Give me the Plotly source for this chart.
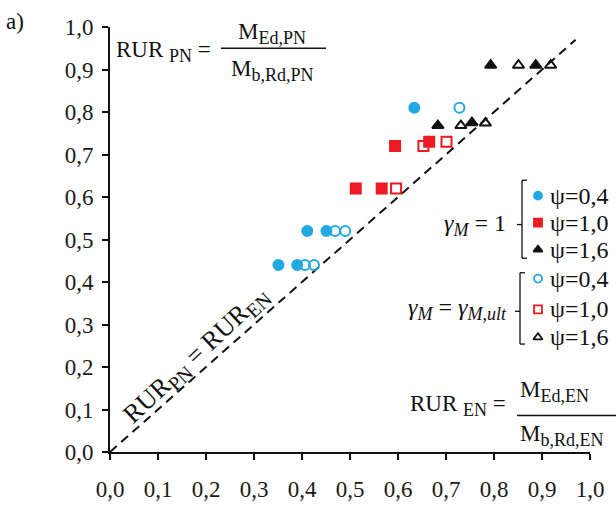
import plotly.graph_objects as go

# ---------------- data ----------------
# gamma_M = 1 (filled markers)
g1_psi04_x = [0.351, 0.390, 0.411, 0.451, 0.634]
g1_psi04_y = [0.44, 0.44, 0.52, 0.52, 0.81]
g1_psi10_x = [0.512, 0.566, 0.594, 0.665]
g1_psi10_y = [0.62, 0.62, 0.72, 0.73]
g1_psi16_x = [0.683, 0.754, 0.793, 0.887]
g1_psi16_y = [0.768, 0.775, 0.91, 0.91]
# gamma_M = gamma_M,ult (open markers)
gu_psi04_x = [0.406, 0.425, 0.469, 0.490, 0.728]
gu_psi04_y = [0.44, 0.44, 0.52, 0.52, 0.81]
gu_psi10_x = [0.596, 0.653, 0.701]
gu_psi10_y = [0.62, 0.72, 0.73]
gu_psi16_x = [0.731, 0.782, 0.851, 0.918]
gu_psi16_y = [0.768, 0.774, 0.91, 0.91]
# reference line RUR_PN = RUR_EN
diag_x = [0.0, 0.97]
diag_y = [0.0, 0.97]
ticks = [round(0.1 * i, 1) for i in range(11)]
legend_labels = ["ψ=0,4", "ψ=1,0", "ψ=1,6"]

CYAN = "#22a9e2"
RED = "#ec1a22"
BLACK = "#111111"
SERIF = "Liberation Serif"

# plot area in pixels
W, H = 616, 514
L, R, T, B = 110, 26, 27, 46
PW, PH = W - L - R, H - T - B


def px(xp):
    return (xp - L) / PW


def py(yp):
    return (H - B - yp) / PH


def sub(s, size):
    return '<sub><span style="font-size:%dpx">%s</span></sub>' % (size, s)


fig = go.Figure()

fig.add_trace(go.Scatter(x=diag_x, y=diag_y, mode="lines",
                         line=dict(color=BLACK, width=2, dash="9px,6px"),
                         hoverinfo="skip", showlegend=False))

series = [
    (g1_psi04_x, g1_psi04_y, "circle", CYAN, 10),
    (g1_psi10_x, g1_psi10_y, "square", RED, 10),
    (g1_psi16_x, g1_psi16_y, "triangle-up", BLACK, 10),
    (gu_psi04_x, gu_psi04_y, "circle-open", CYAN, 10),
    (gu_psi10_x, gu_psi10_y, "square-open", RED, 10),
    (gu_psi16_x, gu_psi16_y, "triangle-up-open", BLACK, 10),
]
for xs, ys, sym, col, sz in series:
    fig.add_trace(go.Scatter(x=xs, y=ys, mode="markers",
                             marker=dict(symbol=sym, color=col, size=sz,
                                         line=dict(color=col, width=2)),
                             showlegend=False, cliponaxis=False))

# legend markers on a pixel-coordinate overlay axis
leg_x = 538
leg_rows_1 = [202, 230, 258]
leg_rows_2 = [288, 320, 349]
leg_syms_1 = ["circle", "square", "triangle-up"]
leg_syms_2 = ["circle-open", "square-open", "triangle-up-open"]
leg_cols = [CYAN, RED, BLACK]
for rows, syms in ((leg_rows_1, leg_syms_1), (leg_rows_2, leg_syms_2)):
    for yy, sym, col in zip(rows, syms, leg_cols):
        fig.add_trace(go.Scatter(x=[leg_x], y=[yy], mode="markers",
                                 xaxis="x2", yaxis="y2",
                                 marker=dict(symbol=sym, color=col, size=8,
                                             line=dict(color=col, width=1.8)),
                                 showlegend=False, cliponaxis=False))

axis_common = dict(range=[0, 1], tickmode="array", tickvals=ticks,
                   tickformat=".1f", showline=True, linecolor=BLACK,
                   linewidth=2, ticks="outside", ticklen=6, tickwidth=1.5,
                   tickcolor=BLACK, showgrid=False, zeroline=False,
                   tickfont=dict(family=SERIF, size=23, color="#1a1a1a"),
                   fixedrange=True)

fig.update_layout(
    width=W, height=H,
    margin=dict(l=L, r=R, t=T, b=B, pad=0),
    paper_bgcolor="white", plot_bgcolor="white",
    font=dict(family=SERIF, color=BLACK),
    separators=", ",
    xaxis=dict(**axis_common, ticklabelstandoff=9),
    yaxis=dict(**axis_common, ticklabelstandoff=4),
    xaxis2=dict(range=[L, L + PW], overlaying="x", visible=False,
                anchor="y2", fixedrange=True),
    yaxis2=dict(range=[H - B, T], overlaying="y", visible=False,
                anchor="x2", fixedrange=True),
    showlegend=False,
)

ann = []


def text(x, y, s, size=23, xanchor="left", yanchor="middle", angle=0):
    ann.append(dict(x=px(x), y=py(y), xref="paper", yref="paper", text=s,
                    showarrow=False, xanchor=xanchor, yanchor=yanchor,
                    textangle=angle,
                    font=dict(family=SERIF, size=size, color=BLACK)))


text(4, 21, "a)", size=23)

# RUR_PN formula (top-left)
text(114, 52, "RUR " + sub("PN", 18) + " =", size=23)
text(272, 34, "M" + sub("Ed,PN", 18), size=23, xanchor="center")
text(272, 72, "M" + sub("b,Rd,PN", 18), size=23, xanchor="center")

# RUR_EN formula (bottom-right)
text(408, 420, "RUR " + sub("EN", 18) + " =", size=23)
text(518, 405, "M" + sub("Ed,EN", 18), size=23)
text(518, 451, "M" + sub("b,Rd,EN", 18), size=23)

# diagonal label
text(196, 368, "RUR" + sub("PN", 20) + " = RUR" + sub("EN", 20), size=26,
     xanchor="center", angle=-43)

# legend group labels
text(508, 232, "<i>γ</i>" + sub("<i>M</i>", 18) + " = 1", size=24,
     xanchor="right")
text(509, 320, "<i>γ</i>" + sub("<i>M</i>", 18) + " = <i>γ</i>"
     + sub("<i>M,ult</i>", 18), size=24, xanchor="right")
for rows in (leg_rows_1, leg_rows_2):
    for yy, lab in zip(rows, legend_labels):
        text(548, yy, lab, size=24)

fig.update_layout(annotations=ann)

# fraction bars and legend brackets
shapes = []


def seg(x0, y0, x1, y1, w=1.5):
    shapes.append(dict(type="line", xref="paper", yref="paper",
                       x0=px(x0), y0=py(y0), x1=px(x1), y1=py(y1),
                       line=dict(color=BLACK, width=w)))


seg(221, 49, 326, 49)
seg(517, 430, 620, 430)


def bracket(x, ytop, ybot, ymid):
    seg(x + 5, ytop, x, ytop, 1.3)
    seg(x, ytop, x, ybot, 1.3)
    seg(x, ybot, x + 5, ybot, 1.3)
    seg(x, ymid, x - 5, ymid, 1.3)


bracket(522, 186, 267, 232)
bracket(520, 282, 356, 322)
fig.update_layout(shapes=shapes)

fig.write_html("out.html")
